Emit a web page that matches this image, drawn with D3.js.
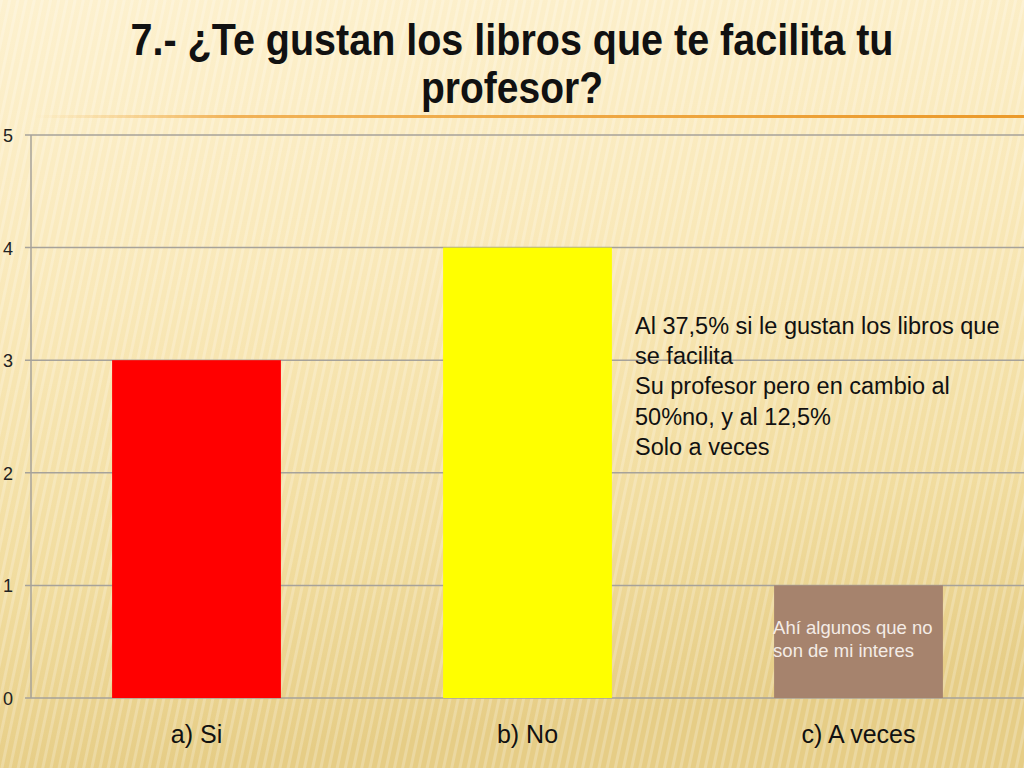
<!DOCTYPE html>
<html>
<head>
<meta charset="utf-8">
<script src="https://cdn.jsdelivr.net/npm/d3@7"></script>
<style>
  body { margin: 0; padding: 0; overflow: hidden; }
  svg { display: block; }
</style>
</head>
<body>
<svg></svg>
<script>
const width = 1024;
const height = 768;

// Data
const categories = ["a) Si", "b) No", "c) A veces"];
const values = [3, 4, 1];
const barColors = ["#ff0000", "#ffff00", "#a6836d"];
const yTicks = [0, 1, 2, 3, 4, 5];
const titleLines = ["7.- ¿Te gustan los libros que te facilita tu", "profesor?"];
const titleWidths = [763, 182];
const noteLines = [
    "Al 37,5% si le gustan los libros que",
    "se facilita",
    "Su profesor pero en cambio al",
    "50%no, y al 12,5%",
    "Solo a veces"
];
const barNote = ["Ahí algunos que no", "son de mi interes"];

const font = "'Liberation Sans', Arial, sans-serif";

const svg = d3.select("svg")
    .attr("width", width)
    .attr("height", height);

const defs = svg.append("defs");

// Background gradient (cream at top, tan at bottom)
const bg = defs.append("linearGradient")
    .attr("id", "bg")
    .attr("x1", 0).attr("y1", 0)
    .attr("x2", 0.15).attr("y2", 1);
bg.append("stop").attr("offset", "0%").attr("stop-color", "#fdf1cf");
bg.append("stop").attr("offset", "40%").attr("stop-color", "#f9e8b8");
bg.append("stop").attr("offset", "75%").attr("stop-color", "#f1dc9e");
bg.append("stop").attr("offset", "100%").attr("stop-color", "#e6cd86");

// Thin diagonal stripes
const stripes = defs.append("pattern")
    .attr("id", "stripes")
    .attr("width", 8)
    .attr("height", 8)
    .attr("patternUnits", "userSpaceOnUse")
    .attr("patternTransform", "rotate(12)");
stripes.append("rect")
    .attr("width", 3)
    .attr("height", 8)
    .attr("fill", "#ffffff")
    .attr("opacity", 0.22);

// Orange rule under the title
const rule = defs.append("linearGradient")
    .attr("id", "rule")
    .attr("x1", 0).attr("x2", 1);
rule.append("stop").attr("offset", "0%").attr("stop-color", "#f2b04a").attr("stop-opacity", 0);
rule.append("stop").attr("offset", "20%").attr("stop-color", "#eea33a").attr("stop-opacity", 0.8);
rule.append("stop").attr("offset", "100%").attr("stop-color", "#eb9a2a").attr("stop-opacity", 1);

svg.append("rect").attr("width", width).attr("height", height).attr("fill", "url(#bg)");
svg.append("rect").attr("width", width).attr("height", height).attr("fill", "url(#stripes)");

// Title
svg.append("text")
    .attr("text-anchor", "middle")
    .style("font-family", font)
    .style("font-weight", "bold")
    .style("font-size", "45px")
    .attr("fill", "#111")
    .selectAll("tspan")
    .data(titleLines)
    .enter().append("tspan")
    .attr("x", 512)
    .attr("y", (d, i) => 55 + i * 48)
    .attr("textLength", (d, i) => titleWidths[i])
    .attr("lengthAdjust", "spacingAndGlyphs")
    .text(d => d);

svg.append("rect")
    .attr("x", 35)
    .attr("y", 115)
    .attr("width", width - 35)
    .attr("height", 3)
    .attr("fill", "url(#rule)");

// Scales
const margin = {left: 31, right: 0, top: 135, bottom: 70};
const x = d3.scaleBand()
    .domain(categories)
    .range([margin.left, width - margin.right])
    .paddingInner(0.49)
    .paddingOuter(0.245);

const y = d3.scaleLinear()
    .domain([0, 5])
    .range([height - margin.bottom, margin.top]);

// Grid lines
svg.append("g")
    .selectAll("line")
    .data(yTicks)
    .enter().append("line")
    .attr("x1", margin.left - 6)
    .attr("x2", width)
    .attr("y1", d => y(d))
    .attr("y2", d => y(d))
    .attr("stroke", "#a6a29a")
    .attr("stroke-width", 1.5);

// Y axis
svg.append("line")
    .attr("x1", margin.left).attr("x2", margin.left)
    .attr("y1", y(5)).attr("y2", y(0))
    .attr("stroke", "#a6a29a")
    .attr("stroke-width", 1.5);

svg.append("g")
    .selectAll("text")
    .data(yTicks)
    .enter().append("text")
    .attr("x", 8)
    .attr("y", d => y(d) + 7)
    .attr("text-anchor", "middle")
    .style("font-family", font)
    .style("font-size", "18px")
    .attr("fill", "#222")
    .text(d => d);

// Bars
svg.append("g")
    .selectAll("rect")
    .data(values)
    .enter().append("rect")
    .attr("x", (d, i) => x(categories[i]))
    .attr("y", d => y(d))
    .attr("width", x.bandwidth())
    .attr("height", d => y(0) - y(d))
    .attr("fill", (d, i) => barColors[i]);

// Category labels
svg.append("g")
    .selectAll("text")
    .data(categories)
    .enter().append("text")
    .attr("x", d => x(d) + x.bandwidth() / 2)
    .attr("y", 743)
    .attr("text-anchor", "middle")
    .style("font-family", font)
    .style("font-size", "25px")
    .attr("fill", "#111")
    .text(d => d);

// Side note
svg.append("text")
    .style("font-family", font)
    .style("font-size", "23.5px")
    .attr("fill", "#111")
    .selectAll("tspan")
    .data(noteLines)
    .enter().append("tspan")
    .attr("x", 635)
    .attr("y", (d, i) => 334 + i * 30.2)
    .text(d => d);

// Note inside the third bar
svg.append("text")
    .style("font-family", font)
    .style("font-size", "18.5px")
    .attr("fill", "#f4ece6")
    .selectAll("tspan")
    .data(barNote)
    .enter().append("tspan")
    .attr("x", x(categories[2]) - 1)
    .attr("y", (d, i) => y(1) + 49 + i * 23)
    .text(d => d);
</script>
</body>
</html>
